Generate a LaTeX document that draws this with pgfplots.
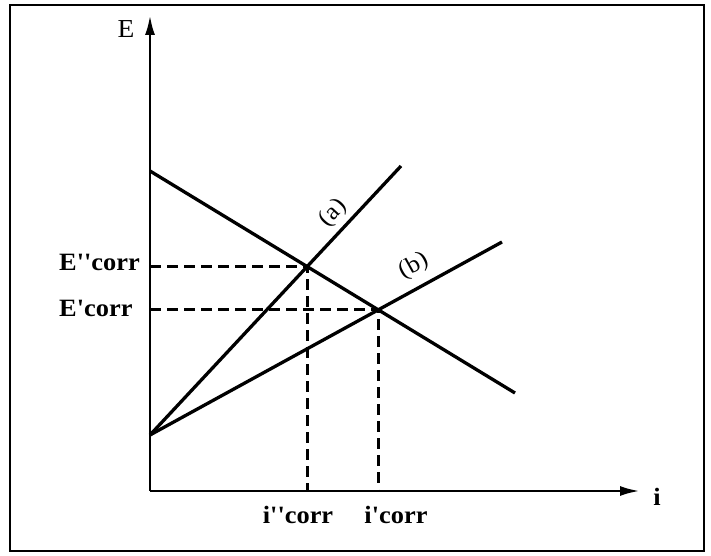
\documentclass[border=0pt]{standalone}
\usepackage{fontspec}
\setmainfont{Liberation Serif}
\newfontfamily\lbl[FakeStretch=1.06]{Liberation Serif}
\usepackage{pgfplots}
\pgfplotsset{compat=1.18}
\usetikzlibrary{arrows.meta}

\begin{document}
\begin{tikzpicture}
\useasboundingbox (0,0) rectangle (711bp,556bp);
\draw[line width=2bp] (10bp,5bp) rectangle (704bp,551bp);
\begin{axis}[
  at={(150bp,65bp)}, anchor=south west,
  scale only axis, width=490bp, height=476bp,
  xmin=0, xmax=490, ymin=0, ymax=476,
  axis lines=left,
  axis line style={line width=2.8bp, -{Latex[length=20bp,width=10bp]}},
  xtick=\empty, ytick=\empty,
  clip=false,
]
% anodic polarisation curve
\addplot[black, line width=3.3bp] coordinates {(0,320) (365,98)};
% cathodic curves (a) and (b)
\addplot[black, line width=3.3bp] coordinates {(0,56) (251,325)};
\addplot[black, line width=3.3bp] coordinates {(0,56) (352,249)};
% corrosion points projected on the axes
\addplot[black, line width=2.6bp, dash pattern=on 11bp off 6bp] coordinates {(0,224.5) (157.2,224.5) (157.2,0)};
\addplot[black, line width=2.6bp, dash pattern=on 11bp off 6bp] coordinates {(0,181.2) (228.3,181.2) (228.3,0)};
\node[rotate=47, inner sep=0pt, font=\fontsize{24}{27}\selectfont\lbl] at (axis cs:183,278) {(a)};
\node[rotate=29, inner sep=0pt, font=\fontsize{24}{27}\selectfont\lbl] at (axis cs:264,225) {(b)};
\end{axis}
\node[font=\fontsize{26}{30}\selectfont\lbl] at (126bp,527bp) {E};
\node[font=\fontsize{25}{29}\selectfont\lbl\bfseries] at (657bp,59bp) {i};
\node[anchor=west, inner sep=0pt, font=\fontsize{25}{29}\selectfont\lbl\bfseries] at (59bp,294bp) {E''corr};
\node[anchor=west, inner sep=0pt, font=\fontsize{25}{29}\selectfont\lbl\bfseries] at (59bp,248bp) {E'corr};
\node[font=\fontsize{25}{29}\selectfont\lbl\bfseries] at (298bp,41bp) {i''corr};
\node[font=\fontsize{25}{29}\selectfont\lbl\bfseries] at (396bp,41bp) {i'corr};
\end{tikzpicture}
\end{document}
